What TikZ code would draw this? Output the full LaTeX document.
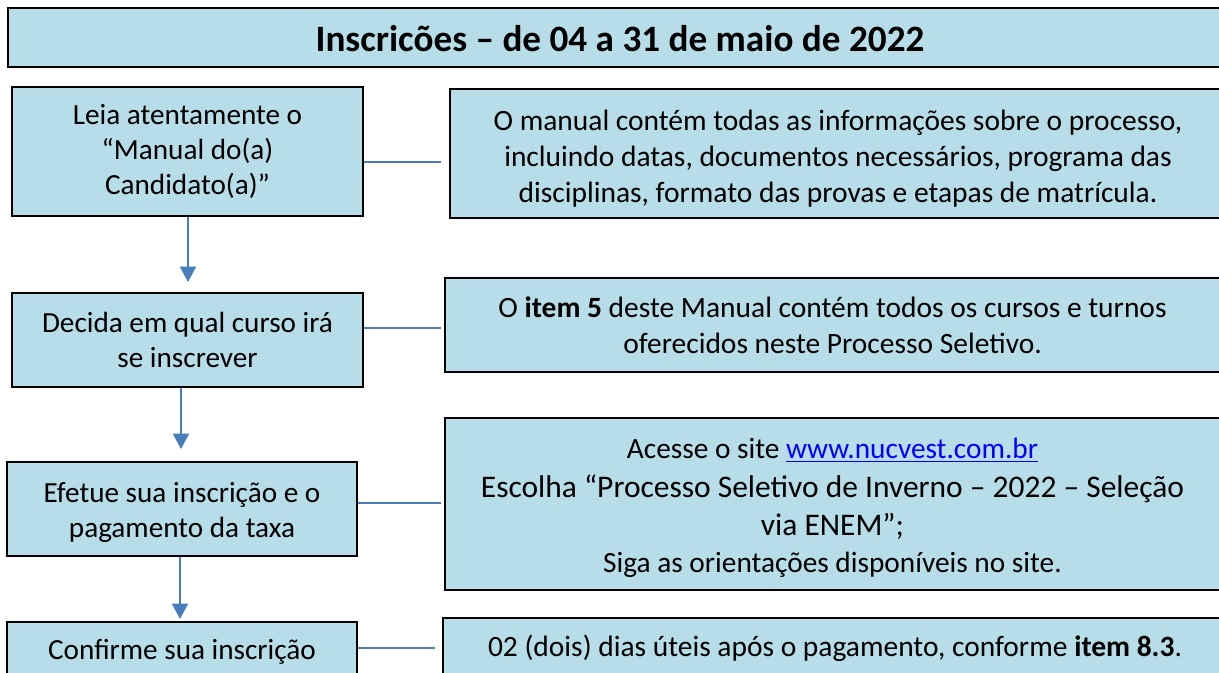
\documentclass[tikz,border=0pt]{standalone}
\usepackage{fontspec}
\setmainfont{Carlito}
\usetikzlibrary{arrows.meta,calc}
\definecolor{boxfill}{HTML}{B7DDE8}
\definecolor{conn}{HTML}{4A7EBB}
\definecolor{linkblue}{HTML}{0000FF}
\newcommand{\bigline}{\fontsize{23.6}{27}\selectfont}
\newcommand{\normline}{\fontsize{22}{27}\selectfont}
\newcommand{\topstrut}[1]{\rule{0pt}{#1}}
\begin{document}
\begin{tikzpicture}[x=0.75pt,y=-0.75pt,
  box/.style={draw=black,line width=1.1pt,fill=boxfill,inner sep=0pt,align=center,text=black},
  leftbox/.style={box,font=\fontsize{21.9}{26.3}\selectfont},
  rightbox/.style={box,font=\fontsize{22.1}{27}\selectfont},
  titlebox/.style={box,font=\fontsize{27.9}{32}\selectfont\bfseries},
  link/.style={draw=conn,line width=1.7pt},
  flow/.style={draw=conn,line width=1.5pt,-{Triangle[width=12pt,length=11.5pt]}}]
\useasboundingbox (0,0) rectangle (1219,673);
\clip (0,0) rectangle (1219,673);
% title
\node[titlebox,minimum width=918pt,minimum height=44.25pt,text height=23pt,text depth=1.7pt] (title) at (620,37.5)
  {Inscricões – de 04 a 31 de maio de 2022};
% left column
\node[leftbox,minimum width=263.25pt,minimum height=96.75pt] (b1) at (187.5,151.5)
  {Leia atentamente o\\“Manual do(a)\\Candidato(a)”};
\node[leftbox,minimum width=263.25pt,minimum height=70.5pt] (b2) at (187.5,340)
  {Decida em qual curso irá\\se inscrever};
\node[leftbox,minimum width=262.5pt,minimum height=70.5pt] (b3) at (182,509)
  {\topstrut{19.8pt}Efetue sua inscrição e o\\pagamento da taxa};
\node[leftbox,minimum width=262.5pt,minimum height=45pt] (b4) at (182,652)
  {Confirme sua inscrição};
% right column
\node[rightbox,minimum width=582pt,minimum height=96.75pt] (r1) at (838,153.5)
  {\topstrut{22.5pt}O manual contém todas as informações sobre o processo,\\incluindo datas, documentos necessários, programa das\\disciplinas, formato das provas e etapas de matrícula.};
\node[rightbox,minimum width=581.25pt,minimum height=70.5pt] (r2) at (832.5,325)
  {O \textbf{item 5} deste Manual contém todos os cursos e turnos\\oferecidos neste Processo Seletivo.};
\node[rightbox,minimum width=581.25pt,minimum height=129pt] (r3) at (832.5,504)
  {\normline\topstrut{21.5pt}Acesse o site {\color{linkblue}\underline{www.nucvest.com.br}}\\[2.25pt]
   \bigline Escolha “Processo Seletivo de Inverno – 2022 – Seleção\\[1.5pt]
   \bigline via ENEM”;\\[0.75pt]
   \normline Siga as orientações disponíveis no site.};
\node[rightbox,minimum width=588pt,minimum height=45pt] (r4) at (835,648)
  {02 (dois) dias úteis após o pagamento, conforme \textbf{item 8.3}.};
% connector ends
\coordinate (c1) at (441,162);
\coordinate (c2) at (441,328);
\coordinate (c3) at (441,503);
\coordinate (c4) at (435,648);
\draw[link] (b1.east |- c1) -- (c1);
\draw[link] (b2.east |- c2) -- (c2);
\draw[link] (b3.east |- c3) -- (c3);
\draw[link] (b4.east |- c4) -- (c4);
% arrows
\coordinate (t1) at (188,282);
\coordinate (t2) at (181,449);
\coordinate (t3) at (180,619);
\draw[flow] (b1.south -| t1) -- (t1);
\draw[flow] (b2.south -| t2) -- (t2);
\draw[flow] (b3.south -| t3) -- (t3);
\end{tikzpicture}
\end{document}
